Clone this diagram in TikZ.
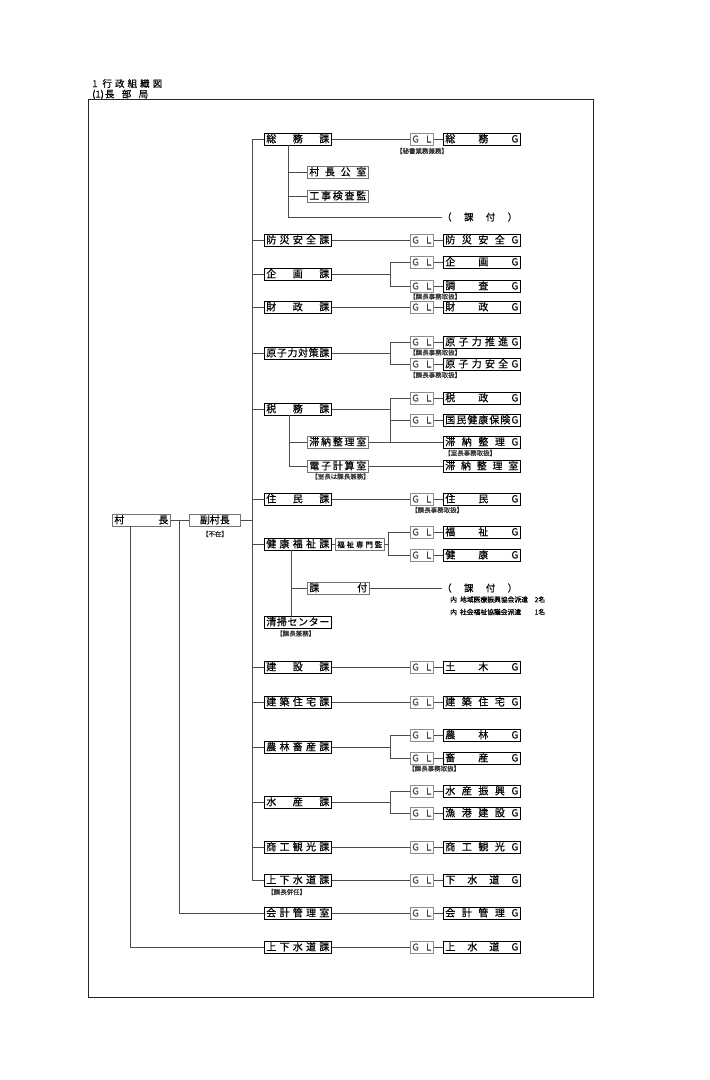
\documentclass[tikz,border=0pt]{standalone}
\usepackage{fontspec}
\setmainfont{Noto Sans CJK JP}[FakeBold=0.35]
\usetikzlibrary{shadows}
\newcommand\hb[2]{\hbox to #1pt{#2}}
\tikzset{
  ln/.style={draw=black!70, line width=0.6pt},
  basebox/.style={fill=white, line width=0.6pt, inner xsep=2pt, inner ysep=0pt,
    minimum height=12pt, text height=8.5pt, text depth=1.5pt, anchor=west,
    font=\fontsize{10}{10}\selectfont},
  kab/.style={basebox, draw=black,
    drop shadow={shadow xshift=0.9pt, shadow yshift=-0.9pt, opacity=1, fill=black!85}},
  subb/.style={basebox, draw=black!55,
    drop shadow={shadow xshift=0.9pt, shadow yshift=-0.9pt, opacity=1, fill=black!60}},
  glb/.style={basebox, draw=black!45, text=black!75, font=\fontsize{9.5}{10}\selectfont},
  note/.style={font=\fontsize{6.5}{7}\selectfont, inner sep=0pt, text=black!80},
  plain/.style={inner sep=0pt, anchor=west, font=\fontsize{9.5}{10}\selectfont},
}
\begin{document}
\begin{tikzpicture}[x=1pt,y=-1pt]
\fill[white] (0,0) rectangle (710,1080);
\useasboundingbox (0,0) rectangle (710,1080);

% title
\node[plain, font=\fontsize{9.5}{10}\selectfont] (title) at (92,83.5)
  {\hb{70}{1\hspace{5pt}行\hfill 政\hfill 組\hfill 織\hfill 図}};
\node[plain, font=\fontsize{9.5}{10}\selectfont] (subtitle) at (92,94.5)
  {\hb{56}{(1)\hspace{1pt}長\hfill 部\hfill 局}};
\draw[line width=0.8pt, black!85] (88,99) rectangle (593,997);

% coordinates of vertical lines
\coordinate (mv) at (252,0);
\coordinate (fv) at (179,0);
\coordinate (cv) at (130,0);
\coordinate (sv1) at (288,0);
\coordinate (sv6) at (289,0);
\coordinate (sv8) at (291,0);
\coordinate (fk) at (390,0);
\coordinate (fk8) at (388,0);

% leaders
\node[subb] (son) at (112,520) {\hb{54}{村\hfill 長}};
\node[subb] (fuku) at (189,520) {\hb{47}{\hfil 副村長\hfil}};
\node[note] (fuzai) at (215,534) {【不在】};

% sections (ka)
\foreach \n/\y/\t in {
  k1/139/{総\hfill 務\hfill 課},
  k2/240/{防\hfill 災\hfill 安\hfill 全\hfill 課},
  k3/274/{企\hfill 画\hfill 課},
  k4/307/{財\hfill 政\hfill 課},
  k5/353/{原\hfill 子\hfill 力\hfill 対\hfill 策\hfill 課},
  k6/409/{税\hfill 務\hfill 課},
  k7/499/{住\hfill 民\hfill 課},
  k8/544/{健\hfill 康\hfill 福\hfill 祉\hfill 課},
  k9/622/{清\hfill 掃\hfill セ\hfill ン\hfill タ\hfill ー},
  k10/667/{建\hfill 設\hfill 課},
  k11/702/{建\hfill 築\hfill 住\hfill 宅\hfill 課},
  k12/747/{農\hfill 林\hfill 畜\hfill 産\hfill 課},
  k13/802/{水\hfill 産\hfill 課},
  k14/847/{商\hfill 工\hfill 観\hfill 光\hfill 課},
  k15/880/{上\hfill 下\hfill 水\hfill 道\hfill 課},
  k16/913/{会\hfill 計\hfill 管\hfill 理\hfill 室},
  k17/947/{上\hfill 下\hfill 水\hfill 道\hfill 課}}
  {\node[kab] (\n) at (264,\y) {\hb{63}{\t}};}

% GL + G rows
\foreach \n/\y/\t in {
  a/139/{総\hfill 務\hfill G},
  b/240/{防\hfill 災\hfill 安\hfill 全\hfill G},
  c/262/{企\hfill 画\hfill G},
  d/286/{調\hfill 査\hfill G},
  e/307/{財\hfill 政\hfill G},
  f/342/{原\hfill 子\hfill 力\hfill 推\hfill 進\hfill G},
  g/364/{原\hfill 子\hfill 力\hfill 安\hfill 全\hfill G},
  h/398/{税\hfill 政\hfill G},
  i/420/{国\hfill 民\hfill 健\hfill 康\hfill 保\hfill 険\hfill G},
  j/499/{住\hfill 民\hfill G},
  k/532/{福\hfill 祉\hfill G},
  l/555/{健\hfill 康\hfill G},
  m/667/{土\hfill 木\hfill G},
  n/702/{建\hfill 築\hfill 住\hfill 宅\hfill G},
  o/735/{農\hfill 林\hfill G},
  p/758/{畜\hfill 産\hfill G},
  q/791/{水\hfill 産\hfill 振\hfill 興\hfill G},
  r/813/{漁\hfill 港\hfill 建\hfill 設\hfill G},
  s/847/{商\hfill 工\hfill 観\hfill 光\hfill G},
  t/880/{下\hfill 水\hfill 道\hfill G},
  u/913/{会\hfill 計\hfill 管\hfill 理\hfill G},
  v/947/{上\hfill 水\hfill 道\hfill G}}
  {\node[glb] (gl\n) at (410,\y) {\hb{19}{G\hfill L}};
   \node[kab] (g\n) at (443,\y) {\hb{73}{\t}};
   \draw[ln] (gl\n.east) -- (g\n.west);}

\node[kab] (gtai) at (443,442) {\hb{73}{滞\hfill 納\hfill 整\hfill 理\hfill G}};
\node[kab] (gtais) at (443,466) {\hb{73}{滞\hfill 納\hfill 整\hfill 理\hfill 室}};

% sub boxes
\node[subb] (s1) at (307,172) {\hb{57}{村\hfill 長\hfill 公\hfill 室}};
\node[subb] (s2) at (307,196) {\hb{57}{工\hfill 事\hfill 検\hfill 査\hfill 監}};
\node[subb] (s3) at (307,442) {\hb{57}{滞\hfill 納\hfill 整\hfill 理\hfill 室}};
\node[subb] (s4) at (307,466) {\hb{57}{電\hfill 子\hfill 計\hfill 算\hfill 室}};
\node[subb] (s5) at (307,588) {\hb{58}{課\hfill 付}};
\node[subb, font=\fontsize{7.5}{8}\selectfont] (s6) at (335,544) {\hb{45}{福\hfill 祉\hfill 専\hfill 門\hfill 監}};

% ka-tsuki texts
\node[plain] (t1) at (442,217) {\hb{75}{（\hfill 課\hfill 付\hfill ）}};
\node[plain] (t2) at (442,588) {\hb{75}{（\hfill 課\hfill 付\hfill ）}};
\node[plain, font=\fontsize{6.8}{7}\selectfont] (t3) at (450,599.5) {\hb{95}{内\hspace{3pt}地域医療振興協会派遣\hfill 2名}};
\node[plain, font=\fontsize{6.8}{7}\selectfont] (t4) at (450,612) {\hb{95}{内\hspace{3pt}社会福祉協議会派遣\hfill 1名}};

% notes
\node[note] (n1) at (422,151) {【秘書業務兼務】};
\node[note, anchor=west] (n2) at (409,296.5) {【課長事務取扱】};
\node[note, anchor=west] (n3) at (409,352.5) {【課長事務取扱】};
\node[note, anchor=west] (n4) at (409,375) {【課長事務取扱】};
\node[note, anchor=west] (n5) at (444,453) {【室長事務取扱】};
\node[note, anchor=west] (n6) at (311,476.5) {【室長は課長兼務】};
\node[note, anchor=west] (n7) at (411,510) {【課長事務取扱】};
\node[note, anchor=west] (n8) at (276,633.5) {【課長兼務】};
\node[note, anchor=west] (n9) at (408,768.5) {【課長事務取扱】};
\node[note, anchor=west] (n10) at (267,892) {【課長併任】};

% main vertical and stubs
\draw[ln] (k1.west -| mv) -- (k15.west -| mv);
\foreach \n in {k1,k2,k3,k4,k5,k6,k7,k8,k10,k11,k12,k13,k14,k15}
  {\draw[ln] (\n.west -| mv) -- (\n.west);}

% leaders connections
\draw[ln] (son.east) -- (fuku.west);
\draw[ln] (fuku.east) -- (fuku.east -| mv);
\draw[ln] (son.east -| fv) -- (k16.west -| fv) -- (k16.west);
\draw[ln] (son.south -| cv) -- (k17.west -| cv) -- (k17.west);

% single rows
\foreach \k/\g in {k1/gla,k2/glb,k4/gle,k7/glj,k10/glm,k11/gln,k14/gls,k15/glt,k16/glu,k17/glv}
  {\draw[ln] (\k.east) -- (\g.west);}

% soumu sub
\draw[ln] (k1.south -| sv1) -- (t1.west -| sv1) -- (t1.west);
\draw[ln] (s1.west -| sv1) -- (s1.west);
\draw[ln] (s2.west -| sv1) -- (s2.west);

% forks
\draw[ln] (k3.east) -- (k3.east -| fk);
\draw[ln] (glc.west) -| (gld.west -| fk) -- (gld.west);
\draw[ln] (k5.east) -- (k5.east -| fk);
\draw[ln] (glf.west) -| (glg.west -| fk) -- (glg.west);
\draw[ln] (k12.east) -- (k12.east -| fk);
\draw[ln] (glo.west) -| (glp.west -| fk) -- (glp.west);
\draw[ln] (k13.east) -- (k13.east -| fk);
\draw[ln] (glq.west) -| (glr.west -| fk) -- (glr.west);

% zeimu
\draw[ln] (k6.east) -- (k6.east -| fk);
\draw[ln] (glh.west) -| (s3.east -| fk);
\draw[ln] (gli.west) -- (gli.west -| fk);
\draw[ln] (s3.east) -- (gtai.west);
\draw[ln] (s4.east) -- (gtais.west);
\draw[ln] (k6.south -| sv6) -- (s4.west -| sv6) -- (s4.west);
\draw[ln] (s3.west -| sv6) -- (s3.west);

% kenko fukushi
\draw[ln] (k8.east) -- (s6.west);
\draw[ln] (s6.east) -- (s6.east -| fk8);
\draw[ln] (glk.west) -| (gll.west -| fk8) -- (gll.west);
\draw[ln] (k8.south -| sv8) -- (k9.north -| sv8);
\draw[ln] (s5.west -| sv8) -- (s5.west);
\draw[ln] (s5.east) -- (t2.west);
\end{tikzpicture}
\end{document}
